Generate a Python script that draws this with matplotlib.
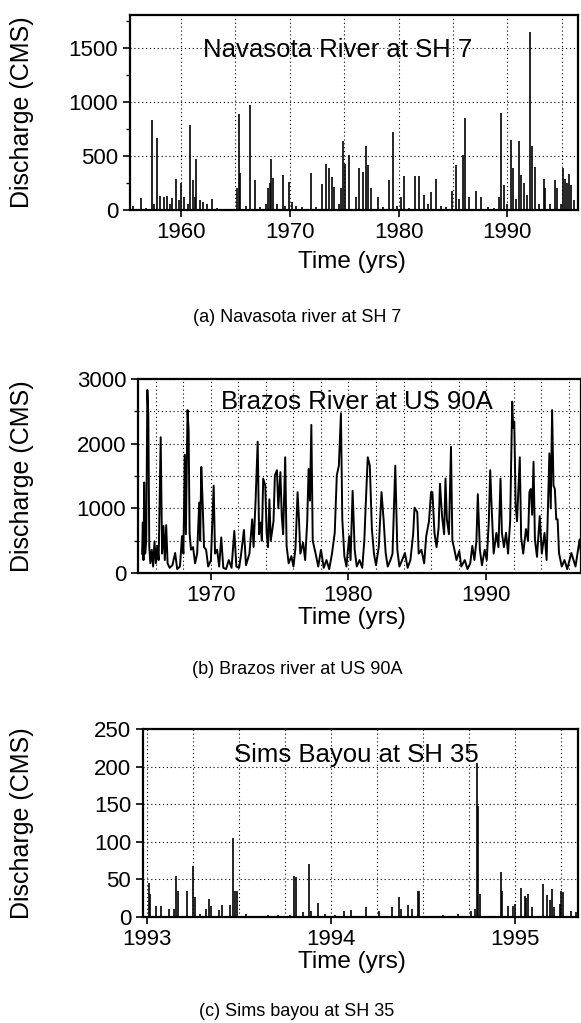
import numpy as np
import matplotlib.pyplot as plt
from matplotlib.ticker import MultipleLocator

plt.rcParams['font.family'] = ['Liberation Sans', 'DejaVu Sans']

# (a) Navasota River at SH 7 -- flood peaks (year, CMS)
nav_t = [1955.6, 1956.3, 1956.8, 1957.3, 1957.5, 1957.8, 1958.1, 1958.4, 1958.7,
         1959.0, 1959.2, 1959.5, 1959.8, 1960.0, 1960.3, 1960.6, 1960.85, 1961.1,
         1961.25, 1961.4, 1961.7, 1962.0, 1962.4, 1962.8, 1963.3, 1964.2, 1965.1,
         1965.3, 1965.45, 1966.0, 1966.3, 1966.75, 1967.3, 1967.8, 1968.0, 1968.15,
         1968.3, 1968.45, 1968.8, 1969.35, 1969.6, 1969.95, 1970.2, 1970.6, 1971.1,
         1971.9, 1972.4, 1973.0, 1973.35, 1973.6, 1973.85, 1974.1, 1974.5, 1974.7,
         1974.9, 1975.1, 1975.4, 1975.8, 1976.1, 1976.35, 1976.7, 1977.0, 1977.2,
         1977.5, 1978.1, 1978.6, 1979.15, 1979.5, 1979.9, 1980.2, 1980.5, 1981.0,
         1981.5, 1981.85, 1982.3, 1982.7, 1983.0, 1983.4, 1983.9, 1984.4, 1984.9,
         1985.25, 1985.6, 1985.9, 1986.15, 1986.5, 1987.1, 1987.6, 1988.2, 1988.8,
         1989.2, 1989.45, 1989.65, 1990.0, 1990.3, 1990.5, 1990.8, 1991.1, 1991.3,
         1991.55, 1991.8, 1992.1, 1992.25, 1992.5, 1992.9, 1993.35, 1993.5, 1993.9,
         1994.35, 1994.55, 1994.9, 1995.1, 1995.3, 1995.5, 1995.7, 1995.9, 1996.1]
nav_q = [40, 110, 20, 830, 60, 665, 130, 120, 130,
         60, 110, 290, 90, 250, 120, 60, 790, 275,
         120, 470, 90, 70, 60, 100, 15, 10, 205,
         890, 340, 40, 970, 275, 30, 60, 200, 250,
         470, 300, 60, 320, 40, 260, 70, 40, 30,
         340, 30, 240, 425, 385, 305, 210, 60, 200,
         635, 430, 510, 10, 120, 385, 350, 590, 415,
         200, 120, 30, 275, 720, 40, 120, 315, 20,
         315, 315, 135, 60, 170, 290, 40, 30, 180,
         415, 100, 510, 855, 120, 180, 120, 30, 20,
         120, 900, 230, 60, 650, 385, 100, 635, 320,
         250, 140, 1650, 590, 400, 60, 290, 200, 60,
         275, 200, 60, 385, 290, 250, 330, 230, 90]

# (b) Brazos River at US 90A -- hydrograph (year, CMS)
brz_t = [1965.00, 1965.05, 1965.10, 1965.15, 1965.22, 1965.30, 1965.38, 1965.45,
         1965.52, 1965.60, 1965.70, 1965.80, 1965.90, 1966.00, 1966.10, 1966.20,
         1966.35, 1966.45, 1966.55, 1966.65, 1966.75, 1966.85, 1967.00, 1967.20,
         1967.40, 1967.55, 1967.75, 1967.90, 1968.00, 1968.10, 1968.18, 1968.30,
         1968.38, 1968.45, 1968.55, 1968.70, 1968.85, 1969.00, 1969.15, 1969.22,
         1969.30, 1969.38, 1969.50, 1969.65, 1969.80, 1970.00, 1970.20, 1970.30,
         1970.45, 1970.60, 1970.75, 1970.90, 1971.10, 1971.30, 1971.50, 1971.70,
         1971.85, 1972.05, 1972.20, 1972.40, 1972.55, 1972.80, 1973.00, 1973.10,
         1973.25, 1973.40, 1973.50, 1973.62, 1973.70, 1973.80, 1973.95, 1974.05,
         1974.15, 1974.25, 1974.35, 1974.55, 1974.65, 1974.80, 1974.90, 1975.05,
         1975.15, 1975.25, 1975.40, 1975.50, 1975.65, 1975.85, 1976.00, 1976.15,
         1976.30, 1976.40, 1976.50, 1976.70, 1976.85, 1977.00, 1977.10, 1977.20,
         1977.30, 1977.40, 1977.60, 1977.80, 1978.00, 1978.20, 1978.40, 1978.60,
         1978.80, 1979.00, 1979.15, 1979.30, 1979.45, 1979.55, 1979.70, 1979.85,
         1980.05, 1980.15, 1980.30, 1980.45, 1980.60, 1980.80, 1981.00, 1981.15,
         1981.25, 1981.40, 1981.55, 1981.70, 1981.85, 1982.00, 1982.20, 1982.40,
         1982.55, 1982.70, 1982.85, 1983.05, 1983.20, 1983.40, 1983.55, 1983.70,
         1983.90, 1984.10, 1984.30, 1984.50, 1984.70, 1984.80, 1985.00, 1985.10,
         1985.30, 1985.50, 1985.65, 1985.85, 1986.00, 1986.10, 1986.25, 1986.40,
         1986.55, 1986.65, 1986.80, 1986.95, 1987.05, 1987.15, 1987.30, 1987.45,
         1987.55, 1987.70, 1987.85, 1988.05, 1988.20, 1988.45, 1988.65, 1988.85,
         1989.00, 1989.15, 1989.30, 1989.40, 1989.55, 1989.70, 1989.90, 1990.05,
         1990.20, 1990.30, 1990.40, 1990.55, 1990.75, 1990.90, 1991.05, 1991.15,
         1991.30, 1991.45, 1991.60, 1991.75, 1991.90, 1991.97, 1992.05, 1992.15,
         1992.25, 1992.45, 1992.55, 1992.70, 1992.90, 1993.05, 1993.15, 1993.25,
         1993.35, 1993.45, 1993.55, 1993.70, 1993.90, 1994.05, 1994.25, 1994.40,
         1994.60, 1994.70, 1994.80, 1994.90, 1995.00, 1995.10, 1995.20, 1995.30,
         1995.50, 1995.70, 1995.90, 1996.20, 1996.50, 1996.80, 1996.90]
brz_q = [300, 780, 200, 1400, 300, 500, 2830, 2440,
         400, 150, 360, 100, 490, 150, 420, 200,
         2100, 300, 730, 200, 740, 150, 80, 120,
         310, 60, 100, 570, 300, 1830, 600, 2520,
         2210, 620, 360, 400, 150, 300, 1090, 500,
         1640, 1200, 400, 360, 100, 200, 1350, 300,
         360, 100, 550, 80, 60, 200, 80, 650,
         100, 80, 300, 665, 120, 300, 830, 400,
         1140, 2030, 600, 780, 500, 1460, 1350, 620,
         400, 1140, 500, 800, 1510, 1590, 1000, 1560,
         880, 600, 1790, 420, 150, 260, 100, 400,
         1250, 830, 300, 470, 200, 800, 1610, 1120,
         2290, 500, 310, 100, 360, 80, 200, 60,
         300, 620, 1510, 1660, 2470, 830, 260, 100,
         570, 200, 1270, 360, 100, 200, 80, 500,
         1040, 1790, 1660, 680, 300, 120, 400, 1250,
         830, 310, 100, 200, 300, 1660, 360, 100,
         200, 310, 80, 200, 600, 1010, 940, 300,
         360, 150, 570, 800, 1250, 1250, 620, 400,
         700, 1380, 880, 600, 1460, 830, 600, 1950,
         500, 360, 200, 340, 100, 200, 60, 150,
         420, 200, 500, 1220, 360, 120, 360, 200,
         800, 1590, 1040, 300, 620, 400, 1460, 620,
         400, 620, 300, 800, 2650, 2240, 2340, 1040,
         800, 1790, 550, 300, 680, 500, 1250, 1300,
         900, 1720, 520, 250, 880, 300, 620, 200,
         1850, 1000, 2520, 1350, 1300, 830, 830, 310,
         100, 200, 60, 310, 100, 520, 300]

# (c) Sims Bayou at SH 35 -- storm peaks (year, CMS)
sims_t = [1993.01, 1993.02, 1993.05, 1993.08, 1993.12, 1993.15, 1993.16, 1993.17,
          1993.22, 1993.25, 1993.26, 1993.29, 1993.32, 1993.34, 1993.35, 1993.39,
          1993.41, 1993.45, 1993.47, 1993.48, 1993.49, 1993.54, 1993.66, 1993.71,
          1993.78, 1993.80, 1993.81, 1993.85, 1993.88, 1993.89, 1993.93, 1993.97,
          1994.02, 1994.07, 1994.11, 1994.19, 1994.26, 1994.33, 1994.37, 1994.38,
          1994.42, 1994.44, 1994.47, 1994.48, 1994.61, 1994.69, 1994.76, 1994.78,
          1994.79, 1994.80, 1994.81, 1994.92, 1994.93, 1994.96, 1994.99, 1995.00,
          1995.03, 1995.05, 1995.06, 1995.07, 1995.09, 1995.15, 1995.17, 1995.19,
          1995.20, 1995.21, 1995.24, 1995.25, 1995.26, 1995.30, 1995.33]
sims_q = [45, 30, 15, 15, 10, 10, 55, 34,
          35, 68, 27, 4, 10, 24, 15, 9,
          16, 16, 105, 35, 35, 4, 3, 2,
          3, 54, 53, 6, 70, 8, 19, 4,
          3, 8, 9, 13, 8, 13, 27, 10,
          16, 10, 35, 35, 3, 4, 8, 10,
          205, 148, 30, 60, 35, 15, 15, 17,
          38, 28, 25, 30, 13, 44, 29, 22,
          37, 13, 17, 35, 33, 8, 6]

W, H = 581, 1023
fig = plt.figure(figsize=(W / 100, H / 100), dpi=100)


def add_axes(l, r, t, b):
    return fig.add_axes([l / W, 1 - b / H, (r - l) / W, (b - t) / H])


def style(ax):
    for s in ax.spines.values():
        s.set_linewidth(1.6)
    ax.tick_params(which='major', direction='out', length=5, width=1.2, labelsize=16)
    ax.tick_params(which='minor', direction='out', length=3, width=1.0)
    ax.tick_params(axis='x', which='minor', length=0)
    ax.grid(True, which='both', linestyle=(0, (1, 2.5)), color='black', linewidth=0.8)
    ax.set_axisbelow(True)


yr_fmt = plt.FuncFormatter(lambda v, p: f'{v:.0f}')

# panel (a)
ax1 = add_axes(130, 578, 15, 210)
ax1.vlines(nav_t, 0, nav_q, color='black', linewidth=1.2)
ax1.set_xlim(1955.3, 1996.5)
ax1.set_ylim(0, 1805)
ax1.xaxis.set_major_locator(MultipleLocator(10))
ax1.xaxis.set_minor_locator(MultipleLocator(5))
ax1.yaxis.set_major_locator(MultipleLocator(500))
ax1.yaxis.set_minor_locator(MultipleLocator(250))
style(ax1)
ax1.grid(False, which='minor', axis='y')
ax1.xaxis.set_major_formatter(yr_fmt)
ax1.text(0.464, 0.82, 'Navasota River at SH 7', transform=ax1.transAxes,
         ha='center', va='center', fontsize=18.5)

# panel (b)
ax2 = add_axes(138, 581, 379, 573)
ax2.plot(brz_t, brz_q, color='black', linewidth=1.4)
ax2.set_xlim(1964.7, 1996.9)
ax2.set_ylim(0, 3000)
ax2.xaxis.set_major_locator(MultipleLocator(10))
ax2.xaxis.set_minor_locator(MultipleLocator(2))
ax2.yaxis.set_major_locator(MultipleLocator(1000))
ax2.yaxis.set_minor_locator(MultipleLocator(500))
style(ax2)
ax2.xaxis.set_major_formatter(yr_fmt)
ax2.text(0.494, 0.88, 'Brazos River at US 90A', transform=ax2.transAxes,
         ha='center', va='center', fontsize=18.5)

# panel (c)
ax3 = add_axes(143, 578, 729, 917)
ax3.vlines(sims_t, 0, sims_q, color='black', linewidth=1.2)
ax3.set_xlim(1992.98, 1995.34)
ax3.set_ylim(0, 250)
ax3.xaxis.set_major_locator(MultipleLocator(1))
ax3.xaxis.set_minor_locator(MultipleLocator(0.25))
ax3.yaxis.set_major_locator(MultipleLocator(50))
style(ax3)
ax3.xaxis.set_major_formatter(yr_fmt)
ax3.text(0.49, 0.862, 'Sims Bayou at SH 35', transform=ax3.transAxes,
         ha='center', va='center', fontsize=18.5)

# axis titles and captions
for yc in (112, 476, 823):
    fig.text(22 / W, 1 - yc / H, 'Discharge (CMS)', rotation=90,
             ha='center', va='center', fontsize=18)
for yc in (262, 618, 962):
    fig.text(352 / W, 1 - yc / H, 'Time (yrs)', ha='center', va='center', fontsize=17.5)

captions = ['(a) Navasota river at SH 7', '(b) Brazos river at US 90A', '(c) Sims bayou at SH 35']
for yc, cap in zip((317, 670, 1012), captions):
    fig.text(297 / W, 1 - yc / H, cap, ha='center', va='center', fontsize=13)

fig.savefig('out.png', dpi=100)
